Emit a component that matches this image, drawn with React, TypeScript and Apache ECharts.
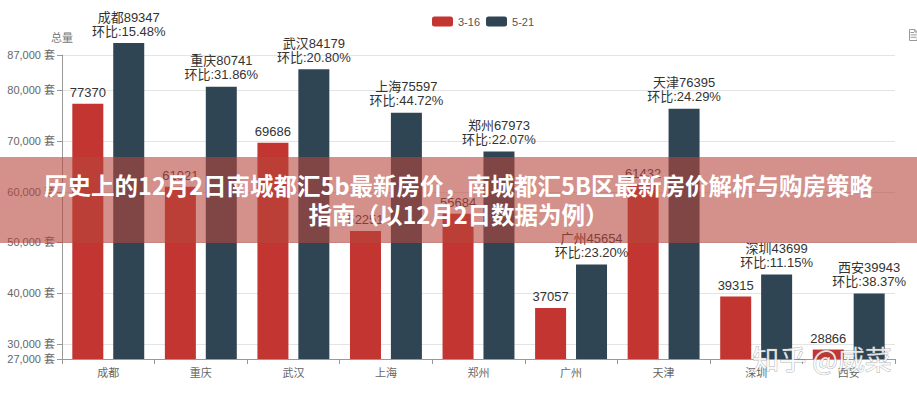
import React, { useEffect, useRef } from "react";
import * as echarts from "echarts";

const cities = ["成都", "重庆", "武汉", "上海", "郑州", "广州", "天津", "深圳", "西安"];
const seriesNames = ["3-16", "5-21"];
const valuesMar = [77370, 61021, 69686, 52251, 55684, 37057, 61432, 39315, 28866];
const valuesMay = [89347, 80741, 84179, 75597, 67973, 45654, 76395, 43699, 39943];
const ringRatio = ["15.48%", "31.86%", "20.80%", "44.72%", "22.07%", "23.20%", "24.29%", "11.15%", "38.37%"];
const yMin = 27000;
const yMax = 87000;
const yName = "总量";
const unit = "套";
const titleLines = [
  "历史上的12月2日南城都汇5b最新房价，南城都汇5B区最新房价解析与购房策略",
  "指南（以12月2日数据为例）",
];
const watermark = "知乎 @威菜";

const FONT = "'Liberation Sans', 'Noto Sans CJK SC', sans-serif";

export default function App() {
  const ref = useRef<HTMLDivElement>(null);
  useEffect(() => {
    if (!ref.current) return;
    const chart = echarts.init(ref.current, null, { renderer: "svg" });
    chart.setOption({
      animation: false,
      textStyle: { fontFamily: FONT },
      color: ["#c23531", "#2f4554"],
      legend: {
        data: seriesNames,
        left: 427,
        top: 11,
        itemWidth: 21,
        itemHeight: 10,
        itemGap: 6,
        icon: "roundRect",
        textStyle: { fontSize: 11, color: "#555", fontFamily: FONT },
      },
      toolbox: {
        left: 892,
        top: 12,
        itemSize: 11,
        iconStyle: { borderColor: "#999" },
        feature: { dataView: { show: true } },
      },
      grid: { left: 62, right: 22, top: 55, bottom: 41, containLabel: false },
      xAxis: {
        type: "category",
        data: cities,
        axisLine: { show: true, lineStyle: { color: "#999" } },
        axisTick: { show: true, lineStyle: { color: "#999" } },
        axisLabel: { fontSize: 11, color: "#666", margin: 8 },
      },
      yAxis: {
        type: "value",
        min: yMin,
        max: yMax,
        startValue: yMin,
        splitNumber: 6,
        name: yName,
        nameGap: 12,
        nameTextStyle: { fontSize: 11, color: "#777", align: "center" },
        axisLine: { show: true, lineStyle: { color: "#999" } },
        axisTick: { show: true, length: 5, lineStyle: { color: "#999" } },
        axisLabel: {
          fontSize: 11,
          color: "#666",
          margin: 7,
          formatter: (v: number) => v.toLocaleString("en-US") + " " + unit,
        },
        splitLine: { show: true, lineStyle: { color: "#e4e4e4" } },
      },
      series: [
        {
          name: seriesNames[0],
          type: "bar",
          data: valuesMar,
          barWidth: 31,
          barGap: "32%",
          clip: false,
          itemStyle: { color: "#c23531" },
          label: {
            show: true,
            position: "top",
            distance: 5,
            fontSize: 13,
            color: "#333",
            fontFamily: FONT,
          },
        },
        {
          name: seriesNames[1],
          type: "bar",
          data: valuesMay,
          barWidth: 31,
          clip: false,
          itemStyle: { color: "#2f4554" },
          label: {
            show: true,
            position: "top",
            distance: 5,
            fontSize: 13,
            lineHeight: 14,
            color: "#333",
            fontFamily: FONT,
            formatter: (p: any) => cities[p.dataIndex] + p.value + "\n环比:" + ringRatio[p.dataIndex],
          },
        },
      ],
      graphic: [
        {
          type: "rect",
          left: 0,
          top: 157,
          shape: { width: 917, height: 86 },
          style: { fill: "rgba(183,70,60,0.6)" },
          z: 100,
        },
        {
          type: "text",
          x: 458.5,
          y: 185,
          style: {
            text: titleLines[0],
            fill: "#fff",
            font: "bold 23.5px 'Noto Sans CJK SC', sans-serif",
            textAlign: "center",
            textVerticalAlign: "middle",
          },
          z: 101,
        },
        {
          type: "text",
          x: 458.5,
          y: 214,
          style: {
            text: titleLines[1],
            fill: "#fff",
            font: "bold 23.5px 'Noto Sans CJK SC', sans-serif",
            textAlign: "center",
            textVerticalAlign: "middle",
          },
          z: 101,
        },
        {
          type: "text",
          x: 822,
          y: 358,
          style: {
            text: watermark,
            fill: "rgba(255,255,255,0.85)",
            stroke: "rgba(110,110,110,0.5)",
            lineWidth: 1,
            font: "27px 'Noto Sans CJK SC', sans-serif",
            textAlign: "center",
            textVerticalAlign: "middle",
          },
          z: 101,
        },
      ],
    });
    return () => chart.dispose();
  }, []);
  return (
    <div
      ref={ref}
      style={{ position: "fixed", left: 0, top: 0, width: 917, height: 400, background: "#fff" }}
    />
  );
}
